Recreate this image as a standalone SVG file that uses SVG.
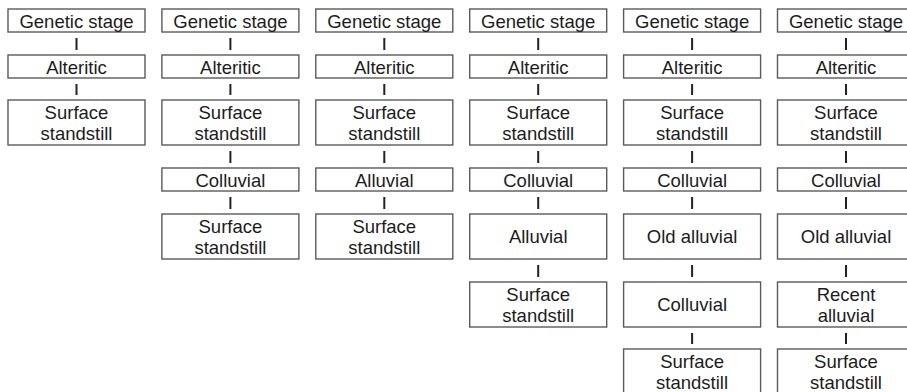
<svg xmlns="http://www.w3.org/2000/svg" width="907" height="392" viewBox="0 0 907 392">
<style>
rect{fill:#fff;stroke:#5a5a5a;stroke-width:1.4}
text{font-family:"Liberation Sans",Arial,sans-serif;font-size:18.5px;fill:#1c1c1c;text-anchor:middle}
#connectors line{stroke:#222;stroke-width:2}
</style>
<rect x="0" y="0" width="907" height="392" style="stroke:none"/>
<!-- Column 1 -->
<g id="c1-genetic"><rect x="8" y="9" width="137" height="23"/><text x="76.5" y="27.5">Genetic stage</text></g>
<g id="c1-alteritic"><rect x="8" y="55" width="137" height="23"/><text x="76.5" y="73.5">Alteritic</text></g>
<g id="c1-standstill1"><rect x="8" y="100" width="137" height="45"/><text x="76.5" y="118.5">Surface</text><text x="76.5" y="139.5">standstill</text></g>
<!-- Column 2 -->
<g id="c2-genetic"><rect x="161.9" y="9" width="137" height="23"/><text x="230.4" y="27.5">Genetic stage</text></g>
<g id="c2-alteritic"><rect x="161.9" y="55" width="137" height="23"/><text x="230.4" y="73.5">Alteritic</text></g>
<g id="c2-standstill1"><rect x="161.9" y="100" width="137" height="45"/><text x="230.4" y="118.5">Surface</text><text x="230.4" y="139.5">standstill</text></g>
<g id="c2-colluvial"><rect x="161.9" y="168" width="137" height="23"/><text x="230.4" y="186.5">Colluvial</text></g>
<g id="c2-standstill2"><rect x="161.9" y="214" width="137" height="45"/><text x="230.4" y="232.5">Surface</text><text x="230.4" y="253.5">standstill</text></g>
<!-- Column 3 -->
<g id="c3-genetic"><rect x="315.8" y="9" width="137" height="23"/><text x="384.3" y="27.5">Genetic stage</text></g>
<g id="c3-alteritic"><rect x="315.8" y="55" width="137" height="23"/><text x="384.3" y="73.5">Alteritic</text></g>
<g id="c3-standstill1"><rect x="315.8" y="100" width="137" height="45"/><text x="384.3" y="118.5">Surface</text><text x="384.3" y="139.5">standstill</text></g>
<g id="c3-alluvial"><rect x="315.8" y="168" width="137" height="23"/><text x="384.3" y="186.5">Alluvial</text></g>
<g id="c3-standstill2"><rect x="315.8" y="214" width="137" height="45"/><text x="384.3" y="232.5">Surface</text><text x="384.3" y="253.5">standstill</text></g>
<!-- Column 4 -->
<g id="c4-genetic"><rect x="469.7" y="9" width="137" height="23"/><text x="538.2" y="27.5">Genetic stage</text></g>
<g id="c4-alteritic"><rect x="469.7" y="55" width="137" height="23"/><text x="538.2" y="73.5">Alteritic</text></g>
<g id="c4-standstill1"><rect x="469.7" y="100" width="137" height="45"/><text x="538.2" y="118.5">Surface</text><text x="538.2" y="139.5">standstill</text></g>
<g id="c4-colluvial"><rect x="469.7" y="168" width="137" height="23"/><text x="538.2" y="186.5">Colluvial</text></g>
<g id="c4-alluvial"><rect x="469.7" y="214" width="137" height="45"/><text x="538.2" y="243">Alluvial</text></g>
<g id="c4-standstill2"><rect x="469.7" y="282" width="137" height="45"/><text x="538.2" y="300.5">Surface</text><text x="538.2" y="321.5">standstill</text></g>
<!-- Column 5 -->
<g id="c5-genetic"><rect x="623.6" y="9" width="137" height="23"/><text x="692.1" y="27.5">Genetic stage</text></g>
<g id="c5-alteritic"><rect x="623.6" y="55" width="137" height="23"/><text x="692.1" y="73.5">Alteritic</text></g>
<g id="c5-standstill1"><rect x="623.6" y="100" width="137" height="45"/><text x="692.1" y="118.5">Surface</text><text x="692.1" y="139.5">standstill</text></g>
<g id="c5-colluvial1"><rect x="623.6" y="168" width="137" height="23"/><text x="692.1" y="186.5">Colluvial</text></g>
<g id="c5-oldalluvial"><rect x="623.6" y="214" width="137" height="45"/><text x="692.1" y="243">Old alluvial</text></g>
<g id="c5-colluvial2"><rect x="623.6" y="282" width="137" height="45"/><text x="692.1" y="311">Colluvial</text></g>
<g id="c5-standstill2"><rect x="623.6" y="349" width="137" height="45"/><text x="692.1" y="367.5">Surface</text><text x="692.1" y="388.5">standstill</text></g>
<!-- Column 6 -->
<g id="c6-genetic"><rect x="777.5" y="9" width="137" height="23"/><text x="846" y="27.5">Genetic stage</text></g>
<g id="c6-alteritic"><rect x="777.5" y="55" width="137" height="23"/><text x="846" y="73.5">Alteritic</text></g>
<g id="c6-standstill1"><rect x="777.5" y="100" width="137" height="45"/><text x="846" y="118.5">Surface</text><text x="846" y="139.5">standstill</text></g>
<g id="c6-colluvial"><rect x="777.5" y="168" width="137" height="23"/><text x="846" y="186.5">Colluvial</text></g>
<g id="c6-oldalluvial"><rect x="777.5" y="214" width="137" height="45"/><text x="846" y="243">Old alluvial</text></g>
<g id="c6-recentalluvial"><rect x="777.5" y="282" width="137" height="45"/><text x="846" y="300.5">Recent</text><text x="846" y="321.5">alluvial</text></g>
<g id="c6-standstill2"><rect x="777.5" y="349" width="137" height="45"/><text x="846" y="367.5">Surface</text><text x="846" y="388.5">standstill</text></g>
<!-- Connectors -->
<g id="connectors">
<line x1="76.5" y1="38" x2="76.5" y2="50"/>
<line x1="76.5" y1="84" x2="76.5" y2="95"/>
<line x1="230.4" y1="38" x2="230.4" y2="50"/>
<line x1="230.4" y1="84" x2="230.4" y2="95"/>
<line x1="230.4" y1="151" x2="230.4" y2="163"/>
<line x1="230.4" y1="197" x2="230.4" y2="209"/>
<line x1="384.3" y1="38" x2="384.3" y2="50"/>
<line x1="384.3" y1="84" x2="384.3" y2="95"/>
<line x1="384.3" y1="151" x2="384.3" y2="163"/>
<line x1="384.3" y1="197" x2="384.3" y2="209"/>
<line x1="538.2" y1="38" x2="538.2" y2="50"/>
<line x1="538.2" y1="84" x2="538.2" y2="95"/>
<line x1="538.2" y1="151" x2="538.2" y2="163"/>
<line x1="538.2" y1="197" x2="538.2" y2="209"/>
<line x1="538.2" y1="265" x2="538.2" y2="277"/>
<line x1="692.1" y1="38" x2="692.1" y2="50"/>
<line x1="692.1" y1="84" x2="692.1" y2="95"/>
<line x1="692.1" y1="151" x2="692.1" y2="163"/>
<line x1="692.1" y1="197" x2="692.1" y2="209"/>
<line x1="692.1" y1="265" x2="692.1" y2="277"/>
<line x1="692.1" y1="333" x2="692.1" y2="344"/>
<line x1="846" y1="38" x2="846" y2="50"/>
<line x1="846" y1="84" x2="846" y2="95"/>
<line x1="846" y1="151" x2="846" y2="163"/>
<line x1="846" y1="197" x2="846" y2="209"/>
<line x1="846" y1="265" x2="846" y2="277"/>
<line x1="846" y1="333" x2="846" y2="344"/>
</g>
</svg>
